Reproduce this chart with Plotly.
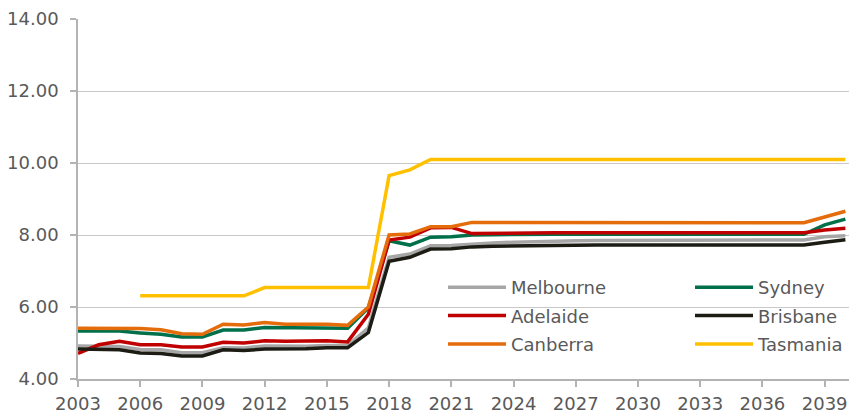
import plotly.graph_objects as go

years = list(range(2003, 2041))

melbourne = [4.92, 4.91, 4.90, 4.82, 4.81, 4.73, 4.73, 4.87, 4.86, 4.92, 4.91, 4.91, 4.93, 4.93,
             5.42, 7.38, 7.47, 7.70, 7.71, 7.75, 7.78, 7.80, 7.82, 7.83, 7.84, 7.85, 7.85, 7.86,
             7.86, 7.86, 7.86, 7.86, 7.86, 7.86, 7.86, 7.86, 7.95, 7.98]
sydney = [5.33, 5.33, 5.33, 5.28, 5.24, 5.17, 5.17, 5.36, 5.36, 5.43, 5.43, 5.42, 5.43, 5.41,
          5.98, 7.84, 7.72, 7.94, 7.95, 8.00, 8.01, 8.02, 8.02, 8.02, 8.02, 8.02, 8.02, 8.02,
          8.02, 8.02, 8.02, 8.02, 8.02, 8.02, 8.02, 8.02, 8.28, 8.44]
adelaide = [4.71, 4.95, 5.05, 4.95, 4.95, 4.89, 4.89, 5.02, 5.00, 5.06, 5.05, 5.05, 5.06, 5.03,
            5.80, 7.86, 7.94, 8.20, 8.21, 8.04, 8.05, 8.05, 8.06, 8.06, 8.06, 8.06, 8.06, 8.06,
            8.06, 8.06, 8.06, 8.06, 8.06, 8.06, 8.06, 8.06, 8.14, 8.19]
brisbane = [4.83, 4.83, 4.81, 4.72, 4.71, 4.64, 4.64, 4.81, 4.79, 4.83, 4.83, 4.84, 4.87, 4.87,
            5.29, 7.27, 7.38, 7.61, 7.62, 7.67, 7.69, 7.70, 7.71, 7.71, 7.72, 7.72, 7.72, 7.72,
            7.72, 7.72, 7.72, 7.72, 7.72, 7.72, 7.72, 7.72, 7.80, 7.87]
canberra = [5.41, 5.41, 5.41, 5.40, 5.37, 5.26, 5.24, 5.52, 5.50, 5.57, 5.52, 5.53, 5.52, 5.49,
            6.00, 8.00, 8.03, 8.23, 8.23, 8.35, 8.35, 8.35, 8.35, 8.34, 8.34, 8.34, 8.34, 8.34,
            8.34, 8.34, 8.34, 8.33, 8.33, 8.34, 8.34, 8.34, 8.50, 8.66]
tasmania = [None, None, None, 6.31, 6.31, 6.31, 6.31, 6.31, 6.31, 6.54, 6.54, 6.54, 6.54, 6.54,
            6.54, 9.65, 9.81, 10.10, 10.10, 10.10, 10.10, 10.10, 10.10, 10.10, 10.10, 10.10, 10.10,
            10.10, 10.10, 10.10, 10.10, 10.10, 10.10, 10.10, 10.10, 10.10, 10.10, 10.10]

x_ticks = list(range(2003, 2041, 3))
y_ticks = [4, 6, 8, 10, 12, 14]

series = [
    ("Melbourne", melbourne, "#A6A6A6", "legend"),
    ("Sydney", sydney, "#00704A", "legend2"),
    ("Adelaide", adelaide, "#C00000", "legend"),
    ("Brisbane", brisbane, "#1C1C14", "legend2"),
    ("Canberra", canberra, "#E46C0A", "legend"),
    ("Tasmania", tasmania, "#FFC000", "legend2"),
]

fig = go.Figure()
for name, vals, color, leg in series:
    fig.add_trace(go.Scatter(
        x=years, y=vals, name=name, mode="lines",
        line=dict(color=color, width=3.5),
        legend=leg, legendgroup=name,
    ))

FONT = "DejaVu Sans, Liberation Sans, Arial, sans-serif"
GREY = "#595959"
FS = 18

# page body has an 8px margin: the figure is drawn 8px right and down
OFF = 8
PLOT_L, PLOT_T, PLOT_W, PLOT_H = 78, 19, 779, 360


def lx(px):
    return (px - PLOT_L) / PLOT_W


def ly(py):
    return (PLOT_T + PLOT_H - py) / PLOT_H


legend_common = dict(
    font=dict(family=FONT, size=FS, color=GREY),
    bgcolor="rgba(0,0,0,0)",
    yanchor="top", xanchor="left",
    tracegroupgap=2,
    itemwidth=58,
)

fig.update_layout(
    width=857 - OFF, height=416 - OFF,
    margin=dict(l=PLOT_L - OFF, r=0, t=PLOT_T - OFF, b=416 - OFF - (PLOT_T - OFF) - PLOT_H),
    paper_bgcolor="white", plot_bgcolor="white",
    font=dict(family=FONT, size=FS, color=GREY),
    showlegend=True,
    legend=dict(x=lx(443), y=ly(269), **legend_common),
    legend2=dict(x=lx(690), y=ly(269), **legend_common),
    xaxis=dict(
        range=[2003, 2040.56],
        tickmode="array", tickvals=x_ticks, ticktext=[str(v) for v in x_ticks],
        showgrid=False, zeroline=False,
        showline=True, linecolor="#B3B3B3", linewidth=1.5,
        ticks="outside", ticklen=6, tickcolor="#B3B3B3", tickwidth=1.5,
        ticklabelstandoff=2,
        tickfont=dict(family=FONT, size=FS, color=GREY),
    ),
    yaxis=dict(
        range=[4, 14],
        tickmode="array", tickvals=y_ticks, ticktext=[f"{v:.2f}" for v in y_ticks],
        showgrid=True, gridcolor="#C8C8C8", gridwidth=1.2,
        zeroline=False,
        showline=True, linecolor="#B3B3B3", linewidth=1.5,
        ticks="outside", ticklen=6, tickcolor="#B3B3B3", tickwidth=1.5,
        ticklabelstandoff=8,
        tickfont=dict(family=FONT, size=FS, color=GREY),
    ),
)

fig.write_html("out.html")
